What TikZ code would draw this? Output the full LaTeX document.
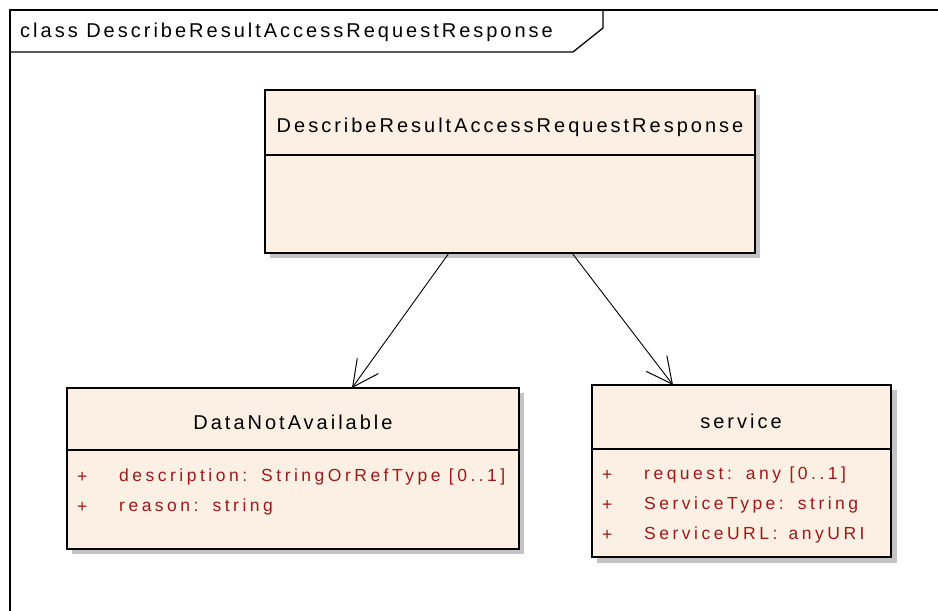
\documentclass[tikz,border=0pt]{standalone}
\usepackage{fontspec}
\setmainfont{Liberation Sans}
\usetikzlibrary{arrows.meta}
\definecolor{boxfill}{RGB}{251,240,227}
\definecolor{attr}{RGB}{160,24,24}
\definecolor{shadowgray}{RGB}{196,196,196}
\newfontfamily\titlefont[LetterSpace=15]{Liberation Sans}
\newfontfamily\attrfont[LetterSpace=20]{Liberation Sans}
\tikzset{
  boxline/.style={draw=black, line width=1.3pt},
  shadowbox/.style={fill=shadowgray, draw=none},
  classbox/.style={fill=boxfill, draw=black, line width=1.3pt},
  titletext/.style={font=\titlefont\fontsize{20}{22}\selectfont, text=black, inner sep=0pt},
  attrtext/.style={font=\attrfont\fontsize{17.5}{19}\selectfont, text=attr, inner sep=0pt, anchor=west},
  assoc/.style={draw=black, line width=0.9pt, -{Straight Barb[length=26pt, width=26pt, line width=1pt]}},
}
\begin{document}
\begin{tikzpicture}[x=1pt, y=-1pt]
\useasboundingbox (0,0) rectangle (938,611);
% frame
\draw[line width=1.3pt] (10,611) -- (10,10) -- (938,10);
\draw[line width=1.3pt] (10,52) -- (573,52) -- (603,28) -- (603,10);
\node[titletext, anchor=west] (frametitle) at (20,32) {class DescribeResultAccessRequestResponse};

% top class
\fill[shadowgray] (270,95) rectangle (760,258);
\draw[classbox] (265,90) rectangle (755,253);
\draw[boxline] (265,155) -- (755,155);
\node[titletext] (drar) at (510,127) {DescribeResultAccessRequestResponse};
\coordinate (drarL) at (449,253);
\coordinate (drarR) at (572,253);

% DataNotAvailable
\fill[shadowgray] (72,393) rectangle (524,554);
\draw[classbox] (67,388) rectangle (519,549);
\draw[boxline] (67,450) -- (519,450);
\node[titletext] (dna) at (293,422) {DataNotAvailable};
\node[attrtext] (dna1p) at (77,477) {+};
\node[attrtext] (dna1) at (119,477) {description:\, StringOrRefType [0..1]};
\node[attrtext] (dna2p) at (77,507) {+};
\node[attrtext] (dna2) at (119,507) {reason:\, string};
\coordinate (dnaT) at (352,388);

% service
\fill[shadowgray] (597,390) rectangle (897,563);
\draw[classbox] (592,385) rectangle (891,557);
\draw[boxline] (592,449) -- (891,449);
\node[titletext] (svc) at (741,421) {service};
\node[attrtext] (s1p) at (602,475) {+};
\node[attrtext] (s1) at (644,475) {request:\, any [0..1]};
\node[attrtext] (s2p) at (602,505) {+};
\node[attrtext] (s2) at (644,505) {ServiceType:\, string};
\node[attrtext] (s3p) at (602,535) {+};
\node[attrtext] (s3) at (644,535) {ServiceURL:\, anyURI};
\coordinate (svcT) at (673,385);

% associations
\draw[assoc] (drarL) -- (dnaT);
\draw[assoc] (drarR) -- (svcT);
\end{tikzpicture}
\end{document}
